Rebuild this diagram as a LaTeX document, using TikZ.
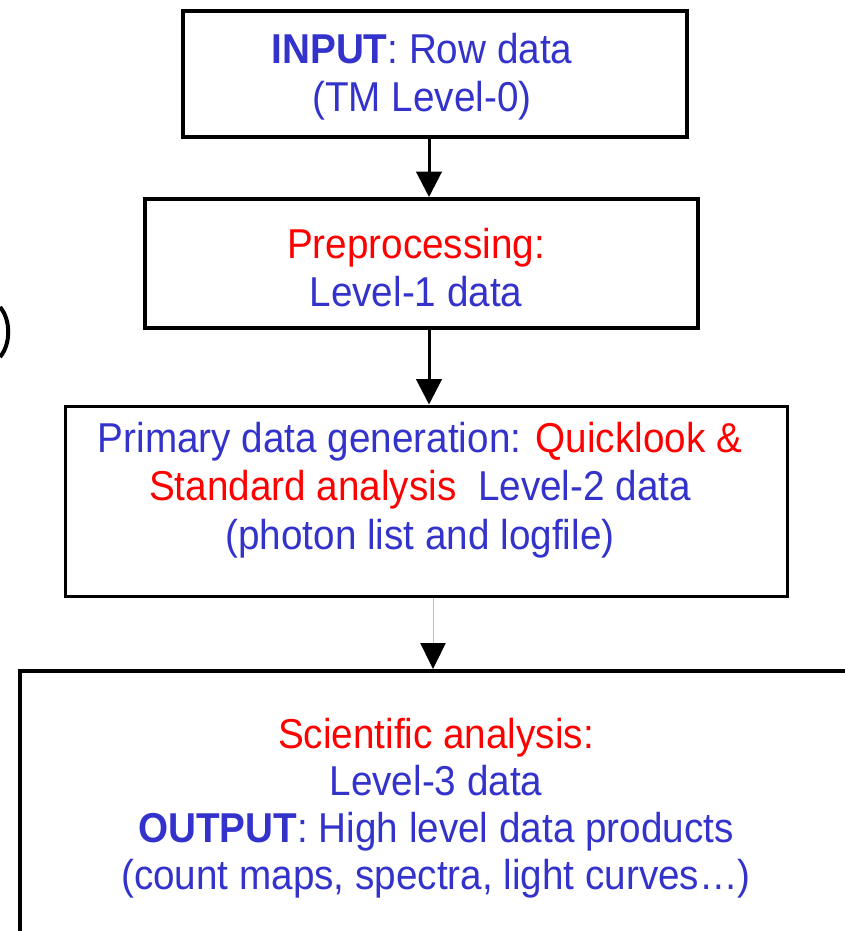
\documentclass[tikz,border=0pt]{standalone}
\usepackage{fontspec}
\setmainfont{Liberation Sans}
\usetikzlibrary{arrows.meta}
\definecolor{tblue}{RGB}{51,51,204}
\definecolor{tred}{RGB}{255,0,0}
\begin{document}
\begin{tikzpicture}[x=0.75pt,y=-0.75pt,
 box/.style={draw=black, fill=white, rectangle, inner sep=0pt},
 txt/.style={align=center, font=\fontsize{29}{33.3}\selectfont, text=tblue, inner sep=0pt, yscale=1.08, transform shape},
 arr/.style={line width=2.25pt, -{Triangle[width=19pt,length=19pt]}},
 thinarr/.style={line width=0.75pt, draw=black!25, -{Triangle[width=19pt,length=19.5pt,color=black]}},
]
\useasboundingbox (0,0) rectangle (845,931);
% boxes
\node[box, line width=3pt, minimum width=378pt, minimum height=94.5pt] (b1) at (435,74) {};
\node[box, line width=3pt, minimum width=414.75pt, minimum height=96.75pt] (b2) at (421.5,263.5) {};
\node[box, line width=2.25pt, minimum width=541.5pt, minimum height=142.5pt] (b3) at (426,501) {};
\node[box, line width=3pt, minimum width=624pt, minimum height=204pt] (b4) at (436,807) {};
% texts
\node[txt] (t1) at (422,77) {\textbf{INPUT}: Row data\\(TM Level-0)};
\node[txt] (t2) at (416,268) {\textcolor{tred}{Preprocessing:}\\Level-1 data};
\node[txt, font=\fontsize{29}{33.8}\selectfont] (t3) at (420,490) {Primary data generation: \textcolor{tred}{Quicklook \&}\\\textcolor{tred}{Standard analysis}\ \ Level-2 data\\(photon list and logfile)};
\node[txt, font=\fontsize{29}{32.6}\selectfont] (t4) at (436,808) {\textcolor{tred}{Scientific analysis:}\\Level-3 data\\\textbf{OUTPUT}: High level data products\\(count maps, spectra, light curves\ldots)};
% arrow columns
\coordinate (c1) at (429,0);
\coordinate (c3) at (433,0);
\draw[arr] (b1.south -| c1) -- (b2.north -| c1);
\draw[arr] (b2.south -| c1) -- (b3.north -| c1);
\draw[thinarr] (b3.south -| c3) -- (b4.north -| c3);
% partial parenthesis at left edge
\draw[line width=3pt] (0,307) .. controls (11,320) and (11,344) .. (0,357);
\end{tikzpicture}
\end{document}
